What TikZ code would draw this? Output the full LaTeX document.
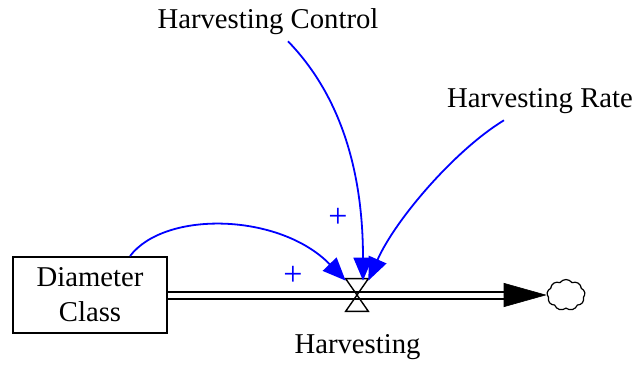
\documentclass[tikz,border=0pt]{standalone}
\usepackage{fontspec}
\setmainfont{Liberation Serif}
\usetikzlibrary{arrows.meta,shapes.symbols}

\begin{document}
\begin{tikzpicture}[x=0.5pt,y=-0.5pt,
  every node/.style={font=\fontsize{14.35}{17.5}\selectfont},
  link/.style={blue,line width=0.9pt,-{Triangle[length=11.5pt,width=9.5pt]}},
  pipe/.style={line width=1pt,double distance=2.5pt},
  plus/.style={blue,inner sep=0pt,font=\fontsize{17}{17}\selectfont}]
  \useasboundingbox (0,0) rectangle (634,365);
  % stock, valve and sink
  \node[draw,line width=0.9pt,minimum width=77pt,minimum height=38pt,align=center] (box) at (90,295) {Diameter\\Class};
  \node[minimum width=11pt,minimum height=16pt,inner sep=0pt] (valve) at (357,295) {};
  \node[cloud,draw,cloud puffs=9,cloud puff arc=110,line width=0.6pt,minimum width=19pt,minimum height=15.5pt,inner sep=0pt] (sink) at (566,295) {};
  \coordinate (abase) at (505,295);
  \draw[pipe] (box.east) -- (abase);
  \draw[line width=0.3pt,-{Triangle[length=21.5pt,width=12pt]}] (abase) -- (sink.west);
  \draw[line width=0.7pt] (valve.north west) -- (valve.north east) -- (valve.south west) -- (valve.south east) -- cycle;
  % auxiliaries
  \node[anchor=base] (hc) at (268,28) {Harvesting Control};
  \node[anchor=base] (hr) at (540,107) {Harvesting Rate};
  \node[anchor=base] (hv) at (357.5,353) {Harvesting};
  % links
  \draw[link] ([xshift=20pt]box.north) .. controls (165,210) and (280,213) .. ([yshift=-1pt]valve.north west);
  \draw[link] ([xshift=10pt]hc.south) .. controls (340,95) and (363,170) .. ([xshift=3pt,yshift=-1pt]valve.north);
  \draw[link] ([xshift=-18pt]hr.south) .. controls (455,150) and (395,220) .. ([yshift=-1pt]valve.north east);
  \node[plus] (p1) at (293,276) {+};
  \node[plus] (p2) at (338,218) {+};
\end{tikzpicture}
\end{document}
